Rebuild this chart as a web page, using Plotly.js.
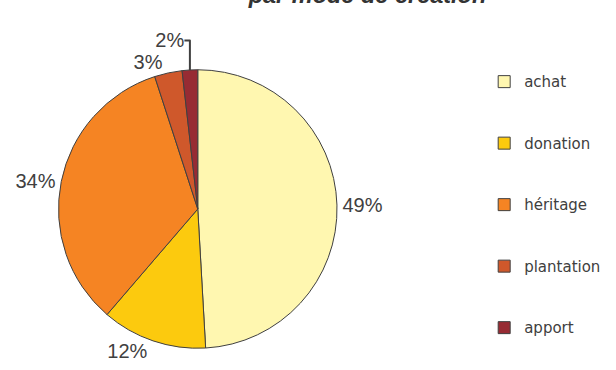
<!DOCTYPE html>
<html>
<head>
<meta charset="utf-8">
<script src="https://cdn.plot.ly/plotly-3.0.1.min.js"></script>
<style>html,body{margin:0;padding:0;background:#fff;}#chart{width:616px;height:370px;}</style>
</head>
<body>
<div id="chart"></div>
<script>
// Data
const categories = ["achat", "donation", "héritage", "plantation", "apport"];
const shares = [49.1, 12.2, 33.7, 3.2, 1.8];
const sliceColors = ["#FFF7B0", "#FCCA0E", "#F58423", "#CF582B", "#972B33"];
const titleText = "par mode de création";

const legendLabels = categories.map(c => " <br>" + c + "<br> ");

const trace = {
  type: "pie",
  labels: legendLabels,
  values: shares,
  sort: false,
  direction: "clockwise",
  rotation: 0,
  textinfo: "percent",
  texttemplate: "%{percent:.0%}",
  textposition: "outside",
  outsidetextfont: {family: "Liberation Sans, Arial, sans-serif", size: 20, color: "#404040"},
  marker: {colors: sliceColors, line: {color: "#404040", width: 1}},
  domain: {x: [0.0950, 0.5471], y: [0, 1]},
  hoverinfo: "label+percent"
};

const layout = {
  width: 616,
  height: 370,
  margin: {l: 0, r: 0, t: 69, b: 21, autoexpand: false},
  paper_bgcolor: "#ffffff",
  showlegend: true,
  title: {
    text: titleText,
    font: {family: "Liberation Sans, Arial, sans-serif", size: 23.5, color: "#333333", weight: "bold", style: "italic"},
    x: 0.5966, xanchor: "center", xref: "container",
    y: 1, yanchor: "top", yref: "container",
    pad: {t: -13},
    automargin: false
  },
  legend: {
    x: 0.786, xanchor: "left", xref: "container",
    y: 0.876, yanchor: "top", yref: "container",
    maxheight: 370,
    font: {family: "DejaVu Sans, sans-serif", size: 15, color: "#404040"},
    bgcolor: "rgba(0,0,0,0)",
    itemclick: false
  }
};

Plotly.newPlot("chart", [trace], layout, {displayModeBar: false, staticPlot: true});
</script>
</body>
</html>
